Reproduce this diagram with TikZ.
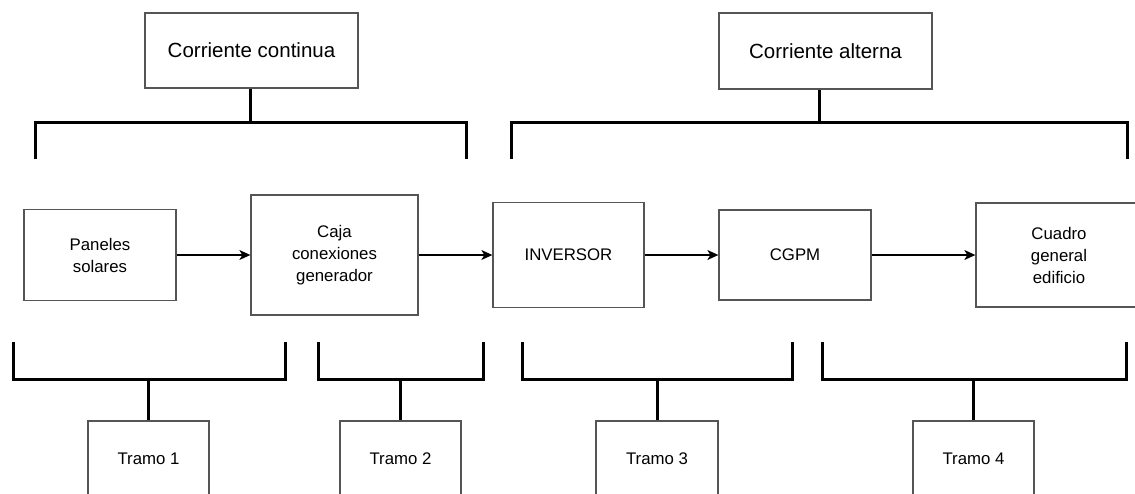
\documentclass[tikz,border=0pt]{standalone}
\usepackage{fontspec}
\setmainfont{Liberation Sans}
\usetikzlibrary{arrows.meta}
\definecolor{boxline}{HTML}{555555}
\tikzset{
  boxnode/.style={draw=boxline, line width=1.3pt, rectangle, inner sep=0pt, align=center,
    font=\fontsize{16.8}{22}\selectfont},
  bignode/.style={boxnode, font=\fontsize{20.5}{24}\selectfont},
  bracket/.style={draw=black, line width=3pt},
  flow/.style={draw=black, line width=1.3pt, -{Stealth[length=11pt,width=10pt,inset=3pt]}}
}
\begin{document}
\begin{tikzpicture}[x=1pt,y=-1pt]
\useasboundingbox (0,0) rectangle (1135,493);
\clip (0,0) rectangle (1135,493);
% top boxes
\node[bignode, minimum width=213, minimum height=75] (cc) at (251.5,50.5) {Corriente continua};
\node[bignode, minimum width=213, minimum height=76] (ca) at (825.5,51) {Corriente alterna};
% middle row
\node[boxnode, minimum width=152, minimum height=91] (pan) at (100,255) {Paneles\\solares};
\node[boxnode, minimum width=167, minimum height=120] (caja) at (334.5,255) {Caja\\conexiones\\generador};
\node[boxnode, minimum width=151, minimum height=105] (inv) at (568.5,255) {INVERSOR};
\node[boxnode, minimum width=152, minimum height=90] (cgpm) at (795,255) {CGPM};
\node[boxnode, minimum width=166, minimum height=104] (cua) at (1059,255) {Cuadro\\general\\edificio};
% bottom boxes
\node[boxnode, minimum width=121, minimum height=76] (t1) at (148.5,459) {Tramo 1};
\node[boxnode, minimum width=121, minimum height=76] (t2) at (400.5,459) {Tramo 2};
\node[boxnode, minimum width=122, minimum height=76] (t3) at (657,459) {Tramo 3};
\node[boxnode, minimum width=121, minimum height=76] (t4) at (973.5,459) {Tramo 4};
% bracket coordinates
\coordinate (b1) at (250,122);
\coordinate (b2) at (819,122);
\coordinate (b3) at (148.5,379);
\coordinate (b4) at (400.5,379);
\coordinate (b5) at (657,379);
\coordinate (b6) at (973.5,379);
% top brackets
\draw[bracket] (35,159) -- (35,122) -- (466,122) -- (466,159);
\draw[bracket] (511,159) -- (511,122) -- (1127,122) -- (1127,159);
\draw[bracket] (cc.south -| b1) -- (b1);
\draw[bracket] (ca.south -| b2) -- (b2);
% bottom brackets
\draw[bracket] (13,342) -- (13,379) -- (285,379) -- (285,342);
\draw[bracket] (318,342) -- (318,379) -- (483,379) -- (483,342);
\draw[bracket] (522,342) -- (522,379) -- (792,379) -- (792,342);
\draw[bracket] (822,342) -- (822,379) -- (1126,379) -- (1126,342);
\draw[bracket] (b3) -- (t1.north);
\draw[bracket] (b4) -- (t2.north);
\draw[bracket] (b5) -- (t3.north);
\draw[bracket] (b6) -- (t4.north);
% flow arrows
\draw[flow] (pan.east) -- (caja.west);
\draw[flow] (caja.east) -- (inv.west);
\draw[flow] (inv.east) -- (cgpm.west);
\draw[flow] (cgpm.east) -- (cua.west);
\end{tikzpicture}
\end{document}
